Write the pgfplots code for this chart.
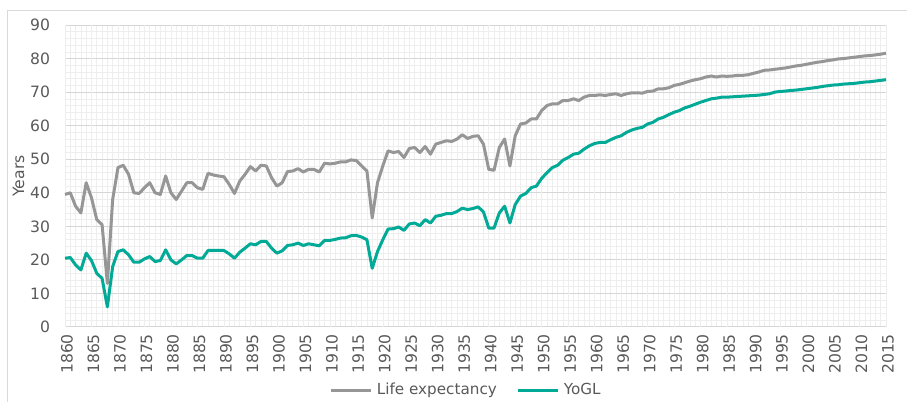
\documentclass[border=0pt]{standalone}
\usepackage{fontspec}
\setmainfont{DejaVu Sans}
\usepackage{pgfplots}
\pgfplotsset{compat=1.18}
\definecolor{legray}{RGB}{150,150,150}
\definecolor{yoteal}{RGB}{0,170,150}
\definecolor{txt}{RGB}{89,89,89}
\definecolor{minorg}{RGB}{238,238,238}
\definecolor{majorg}{RGB}{214,214,214}
\definecolor{framec}{RGB}{217,217,217}
\begin{document}
\begin{tikzpicture}
\useasboundingbox (-32.5pt,-37.5pt) rectangle (421pt,163.5pt);
\draw[framec, line width=0.5pt] (-29pt,-40pt) -- (-29pt,158pt) -- (425pt,158pt);
\begin{axis}[
  scale only axis,
  width=410.5pt, height=151pt,
  xmin=1860, xmax=2015, ymin=0, ymax=90,
  axis line style={draw=none},
  axis background/.style={fill=white},
  xtick={1860,1865,...,2015},
  ytick={0,10,...,90},
  minor x tick num=4,
  minor y tick num=4,
  tick style={draw=none},
  xmajorgrids=false,
  xminorgrids=true, yminorgrids=true, ymajorgrids=true,
  minor grid style={minorg, line width=0.3pt},
  major grid style={majorg, line width=0.5pt},
  extra x ticks={1860,1865,...,2015},
  extra x tick labels={},
  extra x tick style={grid=major, major grid style={minorg,line width=0.3pt}},
  /pgf/number format/assume math mode=true,
  /pgf/number format/1000 sep={},
  ticklabel style={font=\fontsize{7.8}{9}\selectfont, text=txt},
  xticklabel style={rotate=90, anchor=east, xshift=0pt, yshift=-1pt},
  yticklabel style={xshift=-4pt},
  ylabel={Years},
  ylabel style={font=\fontsize{7.8}{9}\selectfont, text=txt, yshift=-4pt},
  legend style={at={(0.49,-0.21)}, anchor=center, draw=none, fill=none,
    legend columns=2, font=\fontsize{7.6}{9}\selectfont, text=txt,
    /tikz/every even column/.append style={column sep=8pt}},
  legend image code/.code={\draw[#1, line width=1.5pt] (0pt,0pt) -- (20pt,0pt);},
  clip=false,
]
\addplot[legray, line width=1.5pt, line join=round] coordinates {
(1860,39.5)(1861,40)(1862,36)(1863,34)(1864,43)(1865,38.5)(1866,32)(1867,30.5)(1868,13)(1869,38)
(1870,47.5)(1871,48.2)(1872,45.5)(1873,40)(1874,39.8)(1875,41.5)(1876,43)(1877,40)(1878,39.5)(1879,45)
(1880,40)(1881,38)(1882,40.5)(1883,43)(1884,43)(1885,41.5)(1886,41)(1887,45.8)(1888,45.3)(1889,45)
(1890,44.8)(1891,42.5)(1892,39.8)(1893,43.5)(1894,45.5)(1895,47.8)(1896,46.5)(1897,48.2)(1898,48)(1899,44.5)
(1900,42)(1901,43)(1902,46.3)(1903,46.5)(1904,47.2)(1905,46.2)(1906,47)(1907,47)(1908,46.2)(1909,48.8)
(1910,48.6)(1911,48.8)(1912,49.2)(1913,49.2)(1914,49.8)(1915,49.6)(1916,48)(1917,46.5)(1918,32.5)(1919,43)
(1920,48)(1921,52.5)(1922,52)(1923,52.3)(1924,50.5)(1925,53.2)(1926,53.5)(1927,52)(1928,53.8)(1929,51.5)
(1930,54.5)(1931,55)(1932,55.5)(1933,55.3)(1934,56)(1935,57.3)(1936,56.2)(1937,56.8)(1938,57)(1939,54.5)
(1940,47)(1941,46.7)(1942,53.5)(1943,56)(1944,48)(1945,57)(1946,60.5)(1947,60.8)(1948,62)(1949,62)
(1950,64.5)(1951,66)(1952,66.5)(1953,66.5)(1954,67.5)(1955,67.5)(1956,68)(1957,67.5)(1958,68.5)(1959,69)
(1960,69)(1961,69.2)(1962,69)(1963,69.3)(1964,69.5)(1965,69)(1966,69.5)(1967,69.8)(1968,69.8)(1969,69.7)
(1970,70.2)(1971,70.3)(1972,71)(1973,71)(1974,71.3)(1975,72)(1976,72.3)(1977,72.8)(1978,73.3)(1979,73.7)
(1980,74)(1981,74.5)(1982,74.8)(1983,74.5)(1984,74.8)(1985,74.7)(1986,74.8)(1987,75)(1988,75)(1989,75.2)
(1990,75.6)(1991,76)(1992,76.5)(1993,76.6)(1994,76.8)(1995,77)(1996,77.2)(1997,77.5)(1998,77.8)(1999,78)
(2000,78.3)(2001,78.6)(2002,78.9)(2003,79.1)(2004,79.4)(2005,79.6)(2006,79.9)(2007,80)(2008,80.2)(2009,80.4)
(2010,80.6)(2011,80.8)(2012,80.9)(2013,81.1)(2014,81.3)(2015,81.6)
};
\addlegendentry{Life expectancy}
\addplot[yoteal, line width=1.5pt, line join=round] coordinates {
(1860,20.5)(1861,20.7)(1862,18.5)(1863,17)(1864,22)(1865,19.8)(1866,16)(1867,14.5)(1868,6)(1869,18)
(1870,22.5)(1871,23)(1872,21.5)(1873,19.3)(1874,19.3)(1875,20.3)(1876,21)(1877,19.5)(1878,19.8)(1879,23)
(1880,20)(1881,18.8)(1882,20)(1883,21.3)(1884,21.3)(1885,20.5)(1886,20.5)(1887,22.8)(1888,22.8)(1889,22.8)
(1890,22.8)(1891,21.8)(1892,20.5)(1893,22.3)(1894,23.5)(1895,24.8)(1896,24.5)(1897,25.5)(1898,25.5)(1899,23.5)
(1900,22)(1901,22.7)(1902,24.3)(1903,24.5)(1904,25)(1905,24.3)(1906,24.8)(1907,24.5)(1908,24.2)(1909,25.8)
(1910,25.8)(1911,26.1)(1912,26.5)(1913,26.6)(1914,27.2)(1915,27.3)(1916,26.8)(1917,26)(1918,17.5)(1919,22.5)
(1920,26)(1921,29.2)(1922,29.3)(1923,29.8)(1924,28.8)(1925,30.7)(1926,31)(1927,30.2)(1928,32)(1929,31)
(1930,33)(1931,33.3)(1932,33.8)(1933,33.8)(1934,34.4)(1935,35.4)(1936,35)(1937,35.3)(1938,35.8)(1939,34.3)
(1940,29.5)(1941,29.5)(1942,34)(1943,36)(1944,31)(1945,36.5)(1946,39)(1947,39.8)(1948,41.5)(1949,42)
(1950,44.3)(1951,46)(1952,47.5)(1953,48.2)(1954,49.7)(1955,50.5)(1956,51.5)(1957,51.8)(1958,53)(1959,54)
(1960,54.7)(1961,55)(1962,55)(1963,55.8)(1964,56.5)(1965,57)(1966,58)(1967,58.7)(1968,59.2)(1969,59.5)
(1970,60.5)(1971,61)(1972,62)(1973,62.5)(1974,63.3)(1975,64)(1976,64.5)(1977,65.3)(1978,65.8)(1979,66.4)
(1980,67)(1981,67.5)(1982,68)(1983,68.2)(1984,68.5)(1985,68.5)(1986,68.6)(1987,68.7)(1988,68.8)(1989,68.9)
(1990,69)(1991,69.1)(1992,69.3)(1993,69.5)(1994,70)(1995,70.2)(1996,70.3)(1997,70.5)(1998,70.6)(1999,70.8)
(2000,71)(2001,71.2)(2002,71.4)(2003,71.7)(2004,71.9)(2005,72.1)(2006,72.2)(2007,72.4)(2008,72.5)(2009,72.6)
(2010,72.8)(2011,73)(2012,73.1)(2013,73.3)(2014,73.5)(2015,73.7)
};
\addlegendentry{YoGL}
\end{axis}
\end{tikzpicture}
\end{document}
